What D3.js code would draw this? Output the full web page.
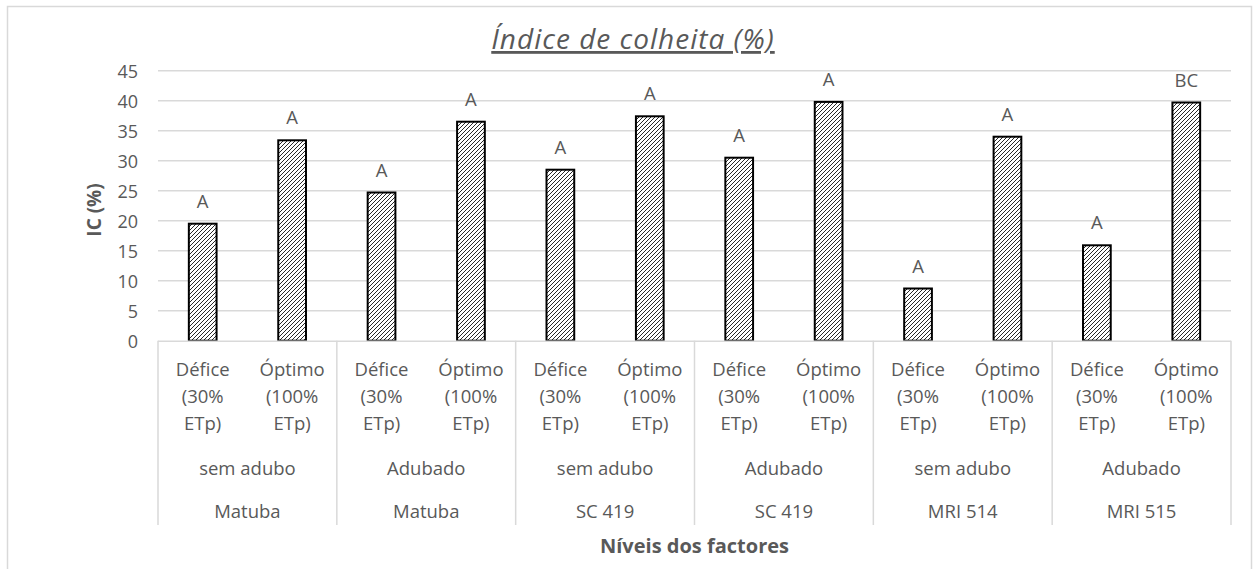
<!DOCTYPE html>
<html>
<head>
<meta charset="utf-8">
<title>Índice de colheita</title>
<script src="https://cdn.jsdelivr.net/npm/d3@7"></script>
<style>
  body { margin: 0; background: #fff; }
  text { font-family: "Open Sans", sans-serif; fill: #595959; }
</style>
</head>
<body>
<script>
// data
var varieties = ["Matuba", "Matuba", "SC 419", "SC 419", "MRI 514", "MRI 515"];
var fertil = ["sem adubo", "Adubado", "sem adubo", "Adubado", "sem adubo", "Adubado"];
var water = [["Défice", "(30%", "ETp)"], ["Óptimo", "(100%", "ETp)"]];
var values = [19.5, 33.4, 24.7, 36.5, 28.5, 37.4, 30.5, 39.8, 8.7, 34.0, 15.9, 39.7];
var letters = ["A", "A", "A", "A", "A", "A", "A", "A", "A", "A", "A", "BC"];
var yTicks = [0, 5, 10, 15, 20, 25, 30, 35, 40, 45];

var width = 1259, height = 569;
var plotL = 158, plotR = 1231, plotT = 70.7, plotB = 340.7;

var svg = d3.select("body").append("svg")
  .attr("width", width).attr("height", height);

// hatch pattern
var pat = svg.append("defs").append("pattern")
  .attr("id", "hatch").attr("patternUnits", "userSpaceOnUse")
  .attr("width", 4).attr("height", 4);
pat.append("rect").attr("width", 4).attr("height", 4).attr("fill", "#fff");
pat.append("path").attr("d", "M-1,1 L1,-1 M0,4 L4,0 M3,5 L5,3")
  .attr("stroke", "#111").attr("stroke-width", 0.9);

// chart border
svg.append("rect").attr("x", 7.5).attr("y", 6.5).attr("width", 1244).attr("height", 570)
  .attr("fill", "none").attr("stroke", "#d9d9d9").attr("stroke-width", 1.5);

var y = d3.scaleLinear().domain([0, 45]).range([plotB, plotT]);
var groups = d3.scaleBand().domain(d3.range(6)).range([plotL, plotR]);
var x = d3.scaleBand().domain(d3.range(12)).range([plotL, plotR]).paddingInner(0.69).paddingOuter(0.345);

// gridlines
svg.append("g").selectAll("line").data(yTicks.slice(1)).enter().append("line")
  .attr("x1", plotL).attr("x2", plotR)
  .attr("y1", function(d){ return y(d); }).attr("y2", function(d){ return y(d); })
  .attr("stroke", "#d9d9d9").attr("stroke-width", 1.5);

// y axis labels
var yAxis = svg.append("g").attr("transform", "translate(" + (plotL - 20) + ",0)")
  .call(d3.axisLeft(y).tickValues(yTicks).tickSize(0).tickPadding(0));
yAxis.select(".domain").remove();
yAxis.selectAll("text").attr("font-size", 18).attr("font-family", "Open Sans").attr("fill", "#595959")
  .attr("dy", "0.36em");

// bars
svg.append("g").selectAll("rect").data(values).enter().append("rect")
  .attr("x", function(d, i){ return x(i); })
  .attr("width", x.bandwidth())
  .attr("y", function(d){ return y(d); })
  .attr("height", function(d){ return y(0) - y(d); })
  .attr("fill", "url(#hatch)").attr("stroke", "#000").attr("stroke-width", 2);

// letters
svg.append("g").selectAll("text").data(values).enter().append("text")
  .attr("x", function(d, i){ return x(i) + x.bandwidth() / 2; })
  .attr("y", function(d){ return y(d) - 16; })
  .attr("text-anchor", "middle").attr("font-size", 18.5)
  .text(function(d, i){ return letters[i]; });

// category axis box
var cat = svg.append("g");
cat.append("line").attr("x1", plotL).attr("x2", plotR).attr("y1", plotB + 0.5).attr("y2", plotB + 0.5)
  .attr("stroke", "#d9d9d9").attr("stroke-width", 1.5);
cat.selectAll(".sep").data(d3.range(7)).enter().append("line")
  .attr("x1", function(d){ return d < 6 ? groups(d) : plotR; })
  .attr("x2", function(d){ return d < 6 ? groups(d) : plotR; })
  .attr("y1", plotB).attr("y2", 525)
  .attr("stroke", "#d9d9d9").attr("stroke-width", 1.5);

var sub = d3.scaleBand().domain(d3.range(12)).range([plotL, plotR]);
var rowY = [376, 403, 430];
d3.range(12).forEach(function(i){
  var lines = water[i % 2];
  lines.forEach(function(t, k){
    cat.append("text").attr("x", sub(i) + sub.bandwidth() / 2).attr("y", rowY[k])
      .attr("text-anchor", "middle").attr("font-size", 18.5).text(t);
  });
});
cat.selectAll(".fert").data(fertil).enter().append("text")
  .attr("x", function(d, i){ return groups(i) + groups.bandwidth() / 2; })
  .attr("y", 475).attr("text-anchor", "middle").attr("font-size", 18.5)
  .text(function(d){ return d; });
cat.selectAll(".var").data(varieties).enter().append("text")
  .attr("x", function(d, i){ return groups(i) + groups.bandwidth() / 2; })
  .attr("y", 518).attr("text-anchor", "middle").attr("font-size", 18.5)
  .text(function(d){ return d; });

// titles
svg.append("text").attr("x", 633).attr("y", 49).attr("text-anchor", "middle")
  .attr("font-size", 28).attr("font-style", "italic").attr("text-decoration", "underline")
  .attr("letter-spacing", 1)
  .text("Índice de colheita (%)");
svg.append("text").attr("transform", "translate(101,210) rotate(-90)")
  .attr("text-anchor", "middle").attr("font-size", 19).attr("font-weight", "bold")
  .text("IC (%)");
svg.append("text").attr("x", (plotL + plotR) / 2).attr("y", 553).attr("text-anchor", "middle")
  .attr("font-size", 20).attr("font-weight", "bold")
  .text("Níveis dos factores");
</script>
</body>
</html>
